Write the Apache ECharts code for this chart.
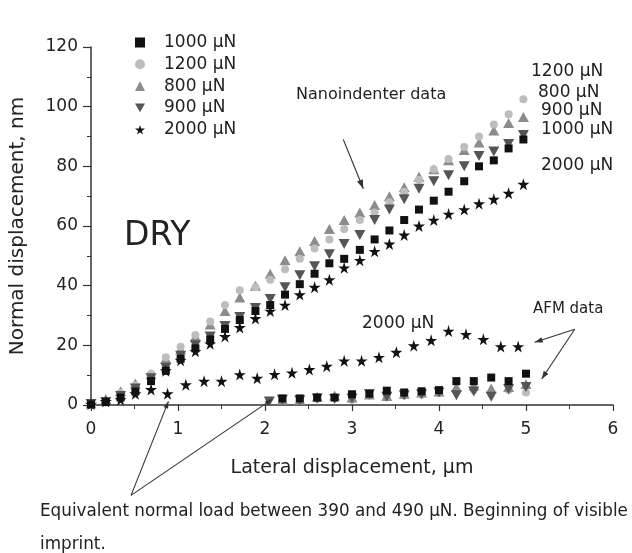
<!DOCTYPE html>
<html>
<head>
<meta charset="utf-8">
<script src="https://cdn.jsdelivr.net/npm/echarts@6.0.0/dist/echarts.min.js"></script>
<style>
  html, body { margin: 0; padding: 0; background: #fff; }
  #chart { width: 632px; height: 553px; }
</style>
</head>
<body>
<div id="chart"></div>
<script>
// nanoindenter scans (x in um, y in nm)
var nanoX = [0, 0.17, 0.34, 0.51, 0.69, 0.86, 1.03, 1.2, 1.37, 1.54, 1.71, 1.89, 2.06, 2.23, 2.4,
             2.57, 2.74, 2.91, 3.09, 3.26, 3.43, 3.6, 3.77, 3.94, 4.11, 4.29, 4.46, 4.63, 4.8, 4.97];
var nano800  = [0.5, 2, 4.6, 7.2, 10.3, 15.5, 18.6, 23, 27, 31.5, 36, 40, 44, 48.5, 51.5,
                55, 59, 62, 64.5, 67, 70, 73, 76.5, 79, 82, 85.5, 88, 92, 94.5, 96.5];
var nano1200 = [0.4, 1.5, 4, 6.5, 10.5, 16, 19.5, 23.5, 28, 33.5, 38.5, 39.5, 42, 45.5, 49,
                52.5, 55.5, 59, 62, 64.5, 68, 71.5, 75.5, 79, 82.5, 86.5, 90, 94, 97.5, 102.5];
var nano900  = [0.3, 1, 3, 5.5, 9, 12.5, 16.5, 20, 23, 26.5, 29.5, 32.5, 35.5, 39.5, 43.5,
                46.5, 50.5, 54, 57, 62, 65.5, 69, 72.5, 75, 77, 80, 83.5, 85, 87.5, 90.5];
var nano1000 = [0.2, 1, 2.5, 4.5, 8, 11.5, 15.5, 19, 22, 25.5, 28.5, 31.5, 33.5, 37, 40.5,
                44, 47.5, 49, 52, 55.5, 58.5, 62, 65.5, 68.5, 71.5, 75, 80, 82, 86, 89];
var nano2000 = [0.3, 1.2, 1.8, 3.8, 5.2, 11.5, 15, 18, 20.5, 23, 26, 29, 31.5, 33.5, 37,
                39.5, 42, 46, 48.5, 51.5, 54, 57, 60, 62, 64, 65.5, 67.5, 69, 71, 74];

// AFM scans
var afmStarX = [0.88, 1.09, 1.3, 1.5, 1.71, 1.91, 2.11, 2.31, 2.51, 2.71, 2.91, 3.11, 3.31, 3.51,
                3.71, 3.91, 4.11, 4.31, 4.51, 4.71, 4.91];
var afm2000  = [3.8, 6.8, 8, 8, 10.2, 9, 10.3, 10.8, 11.9, 13, 14.8, 14.8, 16, 17.7,
                19.9, 21.7, 24.8, 23.7, 22, 19.6, 19.6];
var afmX     = [2.2, 2.4, 2.6, 2.8, 3.0, 3.2, 3.4, 3.6, 3.8, 4.0, 4.2, 4.4, 4.6, 4.8, 5.0];
var afm1000  = [2.2, 2.2, 2.5, 2.5, 3.6, 3.8, 4.8, 4.2, 4.6, 5.0, 8, 8, 9.2, 8, 10.5];
var afm1200  = [1.5, 1.6, 2, 2.4, 1.8, 3.2, 3.0, 3.2, 3.5, 4, 4.5, 5, 3.8, 5, 4.2];
var afm800   = [1.8, 1.8, 2.8, 3.2, 2.5, 3.5, 3.0, 3.8, 4.2, 4.5, 6, 6.5, 5.5, 6, 7];
var afm900X  = [2.05, 2.2, 2.4, 2.6, 2.8, 3.0, 3.2, 3.4, 3.6, 3.8, 4.0, 4.2, 4.4, 4.6, 4.8, 5.0];
var afm900   = [1.2, 1.8, 1.6, 2.2, 2, 2.2, 3.6, 2.8, 3.3, 3.6, 4.2, 3.3, 4.5, 2.8, 5.3, 6];

var legendLoads = ['1000', '1200', '800', '900', '2000'];

var FONT = 'DejaVu Sans';
var STAR = 'path://M50,0 L61,35 L98,35 L68,57 L79,91 L50,70 L21,91 L32,57 L2,35 L39,35 Z';
var DOWN = 'path://M0,0 L100,0 L50,87 Z';

function zip(xs, ys) {
    var out = [];
    for (var i = 0; i < xs.length; i++) out.push([xs[i], ys[i]]);
    return out;
}

// one style per load
var styles = {
    '800':  { symbol: 'triangle', size: [11, 10], color: '#8c8c8c' },
    '1200': { symbol: 'circle',   size: 8,        color: '#bdbdbd' },
    '900':  { symbol: DOWN,       size: [11, 10], color: '#555555' },
    '1000': { symbol: 'rect',     size: 8,        color: '#111111' },
    '2000': { symbol: STAR,       size: 12,       color: '#111111' }
};

function makeSeries(load, data) {
    var s = styles[load];
    return {
        type: 'scatter',
        name: load + ' \u00b5N',
        data: data,
        symbol: s.symbol,
        symbolSize: s.size,
        itemStyle: { color: s.color, opacity: 1 },
        emphasis: { disabled: true },
        silent: true
    };
}

var series = [
    makeSeries('800', zip(nanoX, nano800)),
    makeSeries('1200', zip(nanoX, nano1200)),
    makeSeries('900', zip(nanoX, nano900)),
    makeSeries('1000', zip(nanoX, nano1000)),
    makeSeries('2000', zip(nanoX, nano2000)),
    makeSeries('1200', zip(afmX, afm1200)),
    makeSeries('800', zip(afmX, afm800)),
    makeSeries('900', zip(afm900X, afm900)),
    makeSeries('1000', zip(afmX, afm1000)),
    makeSeries('2000', zip(afmStarX, afm2000))
];

var legendData = legendLoads.map(function (l) {
    return { name: l + ' \u00b5N', icon: styles[l].symbol };
});

var axisCol = '#333';

var chart = echarts.init(document.getElementById('chart'));
chart.setOption({
    animation: false,
    backgroundColor: '#fff',
    grid: { left: 90, right: 19, top: 47, bottom: 148 },
    legend: {
        orient: 'vertical', left: 130, top: 29,
        itemWidth: 10, itemHeight: 10, itemGap: 4.8,
        selectedMode: false,
        data: legendData,
        textStyle: { fontFamily: FONT, fontSize: 17, color: '#222', padding: [0, 0, 0, 14] }
    },
    xAxis: {
        type: 'value', min: 0, max: 6, interval: 1,
        name: 'Lateral displacement, \u00b5m', nameLocation: 'middle', nameGap: 54,
        nameTextStyle: { fontFamily: FONT, fontSize: 19, color: '#222' },
        axisLine: { lineStyle: { color: axisCol, width: 1.5 } },
        axisTick: { inside: false, length: 6, lineStyle: { color: axisCol, width: 1.2 } },
        minorTick: { show: true, splitNumber: 2, length: 4, lineStyle: { color: axisCol, width: 1 } },
        axisLabel: { fontFamily: FONT, fontSize: 17, color: '#222', margin: 16 },
        splitLine: { show: false }
    },
    yAxis: {
        type: 'value', min: 0, max: 120, interval: 20,
        name: 'Normal displacement, nm', nameLocation: 'middle', nameGap: 63, nameRotate: 90,
        nameTextStyle: { fontFamily: FONT, fontSize: 20, color: '#222' },
        axisLine: { show: true, lineStyle: { color: axisCol, width: 1.5 } },
        axisTick: { show: true, inside: false, length: 8, lineStyle: { color: axisCol, width: 1.2 } },
        minorTick: { show: true, splitNumber: 2, length: 4, lineStyle: { color: axisCol, width: 1 } },
        axisLabel: { fontFamily: FONT, fontSize: 17, color: '#222', margin: 13 },
        splitLine: { show: false }
    },
    series: series
});

// annotation arrows, endpoints given in data space
function arrow(from, to, head) {
    var p0 = chart.convertToPixel({ gridIndex: 0 }, from);
    var p1 = chart.convertToPixel({ gridIndex: 0 }, to);
    var els = [{
        type: 'line', silent: true, z: 50,
        shape: { x1: p0[0], y1: p0[1], x2: p1[0], y2: p1[1] },
        style: { stroke: '#333', lineWidth: 1.1 }
    }];
    var a = Math.atan2(p1[1] - p0[1], p1[0] - p0[0]);
    var L = head || 8, W = L * 0.35;
    var bx = p1[0] - L * Math.cos(a), by = p1[1] - L * Math.sin(a);
    els.push({
        type: 'polygon', silent: true, z: 50,
        shape: { points: [[p1[0], p1[1]],
                          [bx + W * Math.sin(a), by - W * Math.cos(a)],
                          [bx - W * Math.sin(a), by + W * Math.cos(a)]] },
        style: { fill: '#333' }
    });
    return els;
}

function label(text, x, y, size) {
    return {
        type: 'text', x: x, y: y, silent: true, z: 60,
        style: { text: text, fontFamily: FONT, fontSize: size || 17, fill: '#222', verticalAlign: 'middle' }
    };
}

var graphics = [].concat(
    arrow([2.9, 89], [3.13, 72.5], 9),
    arrow([5.56, 25.4], [5.1, 21], 8),
    arrow([5.56, 25.4], [5.18, 8.7], 8),
    arrow([0.46, -30.3], [0.89, 1.2], 7),
    arrow([0.46, -30.3], [2.08, 1.9], 7),
    [
        label('DRY', 124, 236, 33),
        label('Nanoindenter data', 296, 95, 16),
        label('1200 \u00b5N', 531, 72),
        label('800 \u00b5N', 538, 93),
        label('900 \u00b5N', 541, 111),
        label('1000 \u00b5N', 541, 130),
        label('2000 \u00b5N', 541, 166),
        label('2000 \u00b5N', 362, 324),
        label('AFM data', 533, 309, 15),
        label('Equivalent normal load between 390 and 490 \u00b5N. Beginning of visible', 40, 512, 16.8),
        label('imprint.', 40, 545, 16.8)
    ]
);
chart.setOption({ graphic: graphics });
</script>
</body>
</html>
